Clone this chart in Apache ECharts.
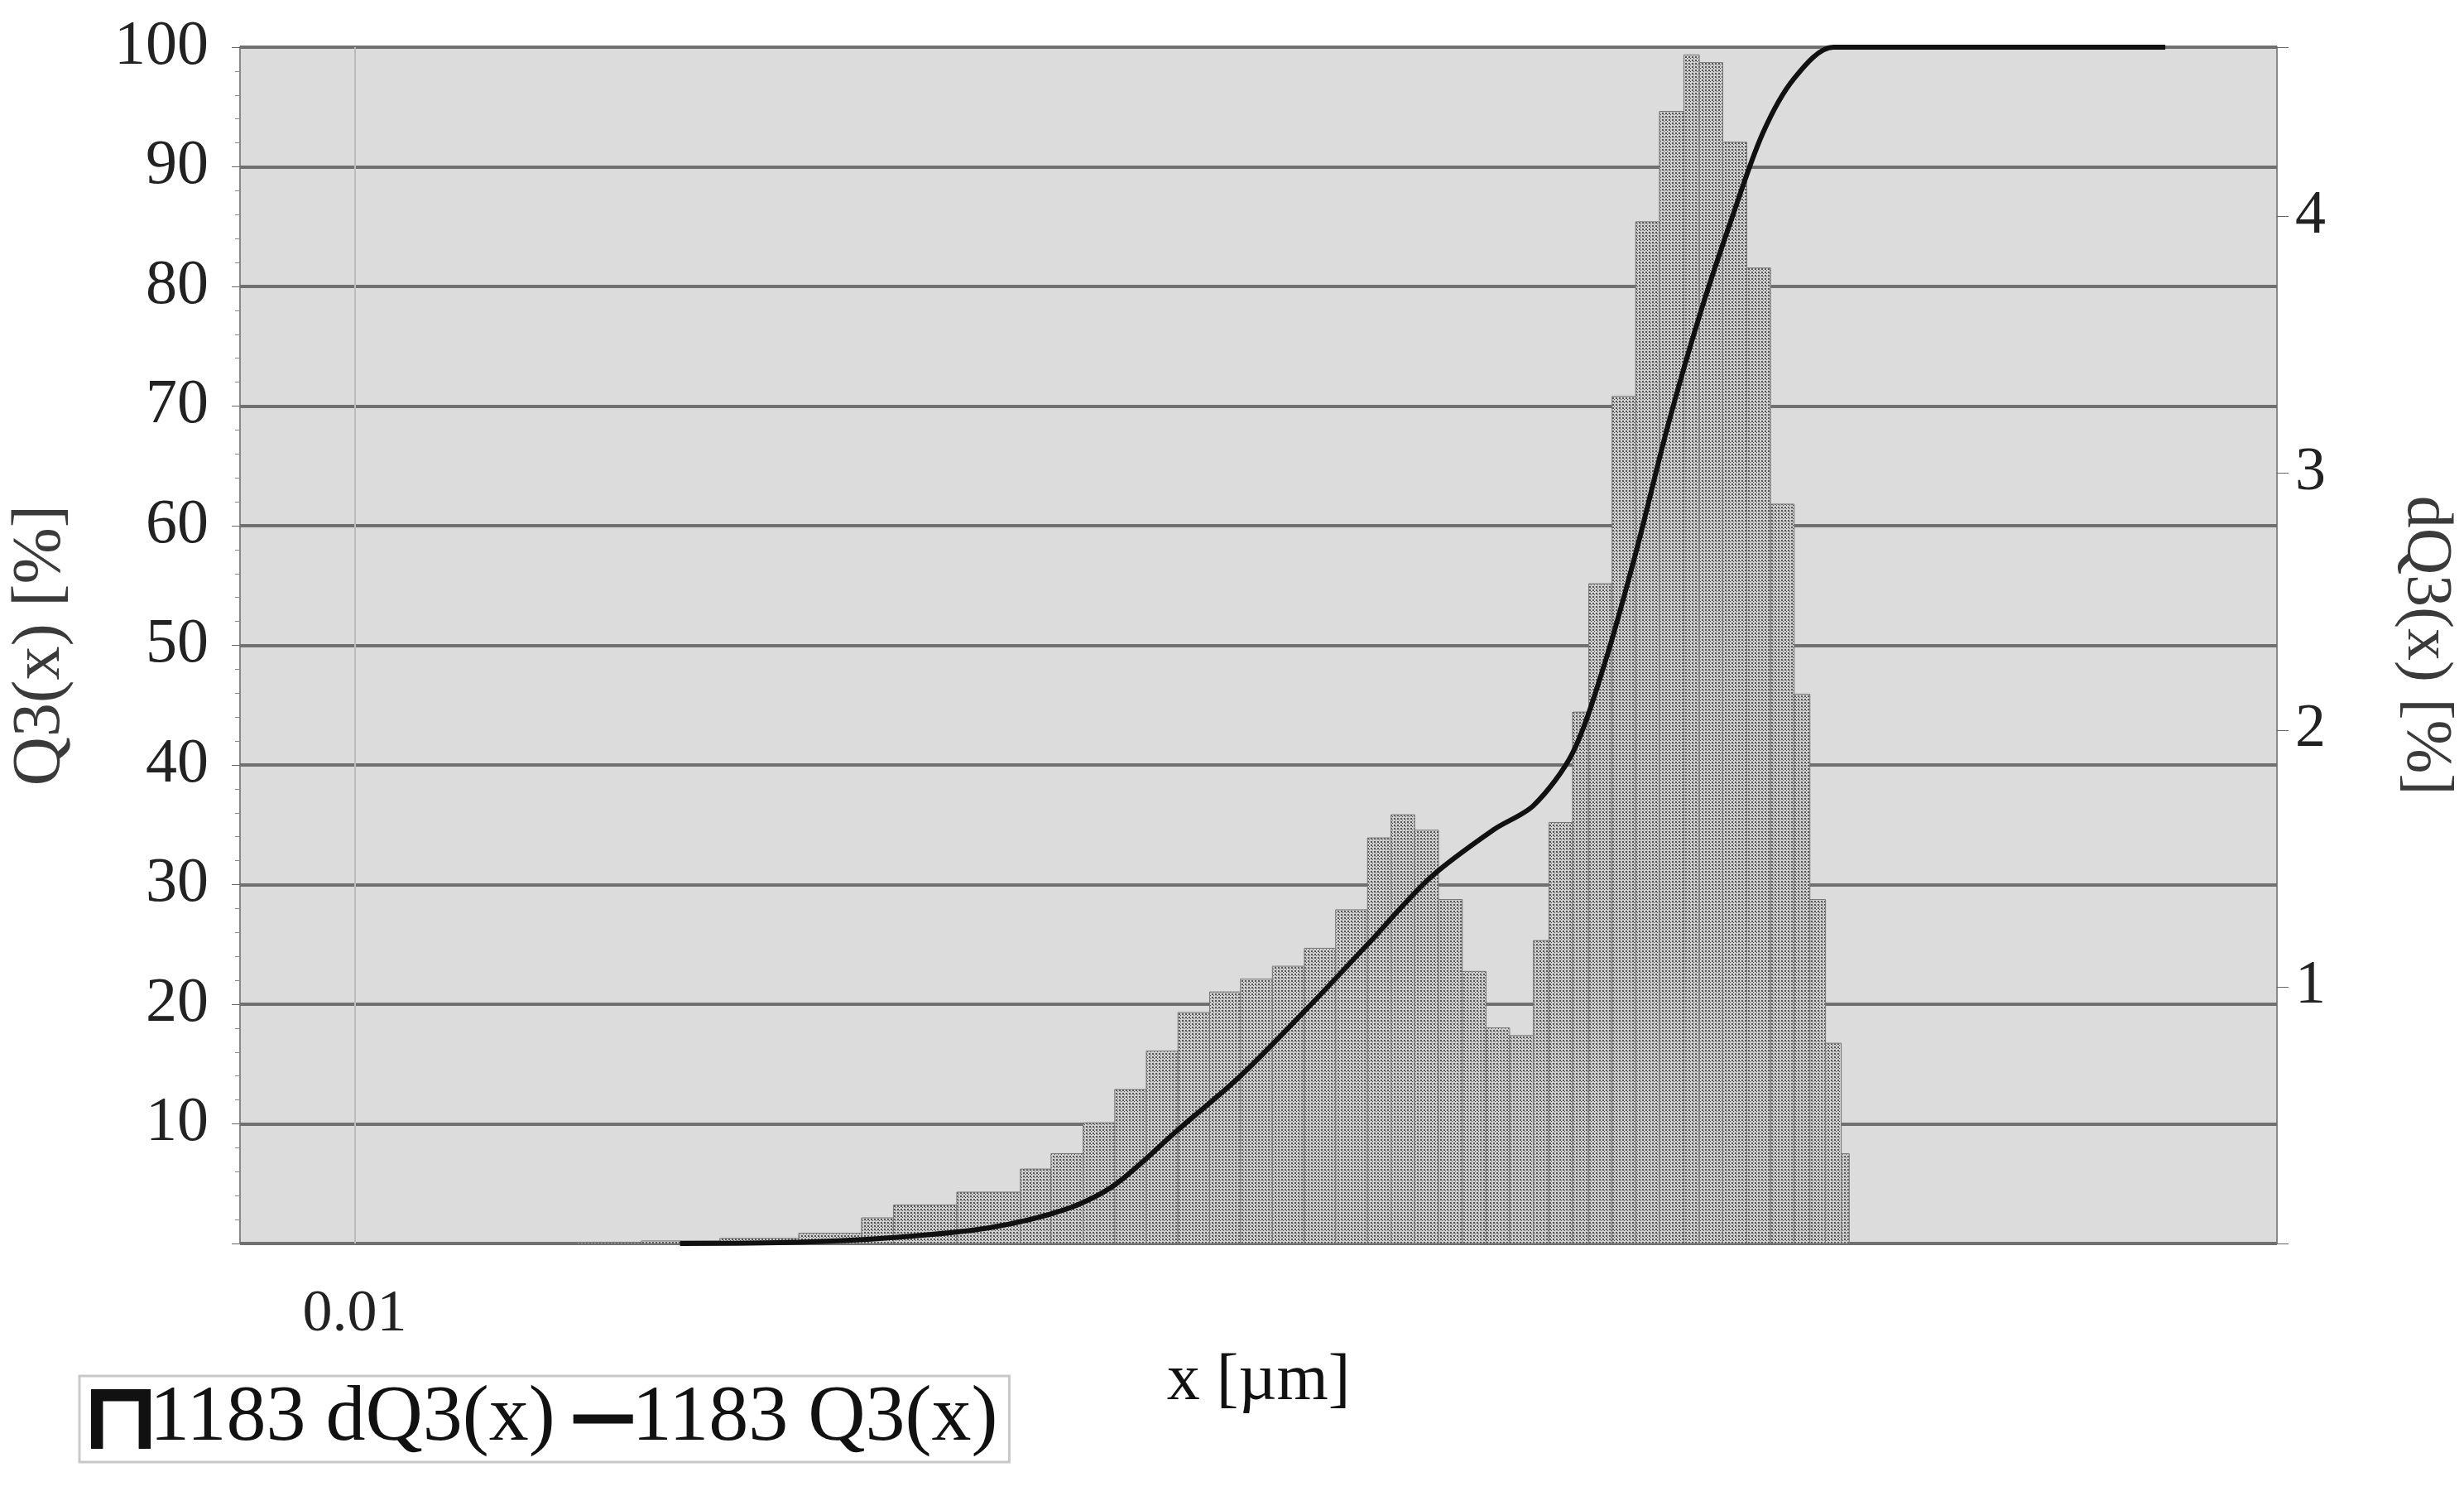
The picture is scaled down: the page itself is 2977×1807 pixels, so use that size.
<!DOCTYPE html>
<html>
<head>
<meta charset="utf-8">
<script src="https://cdn.jsdelivr.net/npm/echarts@6/dist/echarts.min.js"></script>
<style>html,body{margin:0;padding:0;background:#fff}#main{width:2977px;height:1807px}</style>
</head>
<body>
<div id="main"></div>
<script>
// 粒度分布：dQ3 直方图 + Q3 累积曲线
var binEdges = [0.049, 0.078, 0.137, 0.241, 0.378, 0.475, 0.748, 1.18, 1.47, 1.85, 2.32, 2.91, 3.65, 4.58, 5.71, 7.18, 9.03, 11.3, 14.2, 16.8, 19.9, 23.6, 28.0, 33.2, 39.3, 46.6, 52.1, 61.7, 69.3, 81.9, 97.0, 115, 137, 153, 181, 215, 255, 302, 338, 378, 423, 448];
var dQ3 = [0.005, 0.01, 0.02, 0.04, 0.1, 0.15, 0.2, 0.29, 0.35, 0.47, 0.6, 0.75, 0.9, 0.98, 1.03, 1.08, 1.15, 1.3, 1.58, 1.67, 1.61, 1.34, 1.06, 0.84, 0.81, 1.18, 1.64, 2.07, 2.57, 3.3, 3.98, 4.41, 4.63, 4.6, 4.29, 3.8, 2.88, 2.14, 1.34, 0.78, 0.35];
var q3Size = [0.103, 0.241, 0.475, 0.937, 1.65, 2.32, 3.65, 5.71, 9.03, 14.2, 22.3, 35.1, 46.6, 61.7, 77.7, 97.0, 122, 153, 192, 241, 302, 400, 4313];
var q3Val = [0, 0.1, 0.5, 1.3, 2.9, 4.9, 9.5, 14, 19.4, 25, 30.6, 34.6, 36.6, 41, 48.5, 57.7, 68.3, 77.5, 85.5, 92.8, 97.4, 100, 100];
var leftTicks = [10, 20, 30, 40, 50, 60, 70, 80, 90, 100];
var rightTicks = [1, 2, 3, 4];

var font = 'Liberation Serif';

// 点阵填充
var pat = document.createElement('canvas');
pat.width = 4; pat.height = 4;
var pc = pat.getContext('2d');
pc.fillStyle = '#cfcfcf'; pc.fillRect(0, 0, 4, 4);
pc.fillStyle = '#555'; pc.fillRect(0, 0, 2, 2); pc.fillRect(2, 2, 1, 1);

var barData = [];
for (var i = 0; i < dQ3.length; i++) barData.push([binEdges[i], binEdges[i + 1], dQ3[i]]);
var lineData = q3Size.map(function (s, i) { return [s, q3Val[i]]; });

var chart = echarts.init(document.getElementById('main'));
chart.setOption({
    animation: false,
    backgroundColor: '#fff',
    grid: { left: 273, right: 220, top: 57, bottom: 305, show: true, backgroundColor: '#dcdcdc', borderColor: '#888', borderWidth: 2 },
    legend: {
        left: 96, top: 1662, itemGap: 22, itemWidth: 72, itemHeight: 72,
        borderColor: '#c8c8c8', borderWidth: 3, padding: [4, 14, 4, 14], backgroundColor: '#fff',
        textStyle: { fontFamily: font, fontSize: 96, color: '#111', padding: [0, 0, 0, -6] },
        data: [
            { name: '1183 dQ3(x)', icon: 'path://M0,40 L0,0 L40,0 L40,40 L32,40 L32,8 L8,8 L8,40 Z', itemStyle: { color: '#111' } },
            { name: '1183 Q3(x)', icon: 'path://M0,17 L40,17 L40,23 L0,23 Z', itemStyle: { color: '#111' } }
        ]
    },
    xAxis: {
        type: 'log', logBase: 10, min: 0.0044, max: 9600,
        name: 'x [µm]', nameLocation: 'middle', nameGap: 68,
        nameTextStyle: { fontFamily: font, fontSize: 80, color: '#111' },
        axisLine: { show: false }, axisTick: { show: false }, splitLine: { show: false },
        axisLabel: {
            fontFamily: font, fontSize: 72, color: '#222', margin: 50,
            formatter: function (v) { return Math.abs(v - 0.01) < 1e-9 ? '0.01' : ''; }
        }
    },
    yAxis: [{
        type: 'value', min: 0, max: 100, interval: 10,
        name: 'Q3(x) [%]', nameLocation: 'middle', nameGap: 200, nameRotate: 90,
        nameTextStyle: { fontFamily: font, fontSize: 82, color: '#3a3a3a' },
        axisLine: { show: false }, axisTick: { show: true, length: 10, lineStyle: { color: '#666' } },
        minorTick: { show: true, splitNumber: 5, length: 6, lineStyle: { color: '#888' } },
        splitLine: { show: true, lineStyle: { color: '#707070', width: 4 } },
        axisLabel: {
            fontFamily: font, fontSize: 76, color: '#222', margin: 38,
            formatter: function (v) { return leftTicks.indexOf(v) >= 0 ? String(v) : ''; }
        }
    }, {
        type: 'value', min: 0, max: 4.66, interval: 1,
        name: 'dQ3(x) [%]', nameLocation: 'middle', nameGap: 140, nameRotate: -90,
        nameTextStyle: { fontFamily: font, fontSize: 78, color: '#3a3a3a' },
        axisLine: { show: false }, axisTick: { show: true, length: 14, lineStyle: { color: '#666' } },
        splitLine: { show: false },
        axisLabel: {
            fontFamily: font, fontSize: 74, color: '#222', margin: 22,
            formatter: function (v) { return rightTicks.indexOf(v) >= 0 ? String(v) : ''; }
        }
    }],
    series: [{
        name: '1183 dQ3(x)', type: 'custom', yAxisIndex: 1,
        encode: { x: [0, 1], y: 2 },
        renderItem: function (params, api) {
            var p0 = api.coord([api.value(0), 0]);
            var p1 = api.coord([api.value(1), api.value(2)]);
            return { type: 'rect', shape: { x: p0[0], y: p1[1], width: p1[0] - p0[0], height: p0[1] - p1[1] },
                style: { fill: { image: pat, repeat: 'repeat' }, stroke: '#777', lineWidth: 1 } };
        },
        data: barData,
        markLine: {
            silent: true, symbol: 'none', label: { show: false },
            lineStyle: { color: '#bbb', type: 'solid', width: 2 },
            data: [{ xAxis: 0.01 }]
        },
        itemStyle: { color: '#111' }
    }, {
        name: '1183 Q3(x)', type: 'line', yAxisIndex: 0, smooth: 0.3, symbol: 'none',
        lineStyle: { color: '#111', width: 6 }, itemStyle: { color: '#111' },
        data: lineData
    }]
});
</script>
</body>
</html>
